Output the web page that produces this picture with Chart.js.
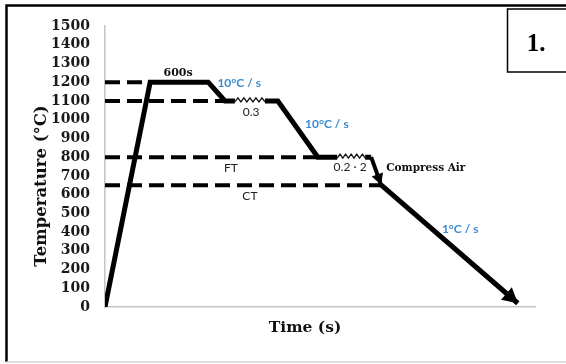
<!DOCTYPE html>
<html>
<head>
<meta charset="utf-8">
<script src="https://cdn.jsdelivr.net/npm/chart.js@4"></script>
<style>
  body { margin: 0; background: #fff; }
  #wrap { width: 566px; height: 364px; }
</style>
</head>
<body>
<div id="wrap"><canvas id="cycle-chart" width="566" height="364"></canvas></div>
<script>
// heat treatment schedule (time is arbitrary, no ticks in the source)
var profileTime = [0, 10.5, 24.0, 27.9, 30.2, 33.7, 37.2, 40.2, 49.5, 54.0, 57.2, 60.5, 61.9];
var profileTemp = [0, 1200, 1200, 1100, 1100, null, 1100, 1100, 800, 800, null, 800, 800];

var airTime = [61.9, 64.2];
var airTemp = [800, 652];

var coolTime = [64.2, 96.0];
var coolTemp = [652, 20];

var levelTemps = [1200, 1100, 800, 650];
var levelEnds = [10.5, 27.9, 49.5, 64.2];

// hold sections drawn as a spring
var holdStart = [30.2, 54.0];
var holdEnd = [37.2, 60.5];
var holdTemp = [1100, 800];

var yMin = 0, yMax = 1500, yStep = 100;

var noteText = ["600s", "10°C / s", "0.3", "10°C / s", "FT", "0.2 · 2", "Compress Air", "CT", "1°C / s"];
var noteTime = [17.0, 31.2, 34.0, 51.6, 29.3, 57.0, 65.4, 33.7, 82.6];
var noteTemp = [1250, 1196, 1041, 977, 742, 745, 742, 593, 417];

var blue = "#3b8bd0";
var noteStyle = [
  { font: "bold 11px 'DejaVu Serif'", color: "#111", align: "center" },
  { font: "bold 12px Lato", color: blue, align: "center" },
  { font: "12px Lato", color: "#222", align: "center" },
  { font: "bold 12px Lato", color: blue, align: "center" },
  { font: "12px Lato", color: "#222", align: "center" },
  { font: "12px Lato", color: "#222", align: "center" },
  { font: "bold 10.5px 'DejaVu Serif'", color: "#111", align: "left" },
  { font: "12px Lato", color: "#222", align: "center" },
  { font: "bold 12px Lato", color: blue, align: "center" },
];

function pts(xs, ys) {
  return xs.map((x, i) => ({ x: x, y: ys[i] }));
}

var datasets = [];

levelTemps.forEach((temp, i) => {
  datasets.push({
    label: "level " + temp,
    data: pts([0, levelEnds[i]], [temp, temp]),
    borderColor: "#000",
    borderWidth: 4,
    borderDash: [15, 7],
    pointRadius: 0,
    showLine: true,
  });
});

datasets.push({
  label: "Profile",
  data: pts(profileTime, profileTemp),
  borderColor: "#000",
  borderWidth: 5,
  pointRadius: 0,
  showLine: true,
  spanGaps: false,
  borderJoinStyle: "miter",
});
datasets.push({
  label: "Compress Air",
  data: pts(airTime, airTemp),
  borderColor: "#000",
  borderWidth: 4,
  pointRadius: 0,
  showLine: true,
  arrow: 11,
});
datasets.push({
  label: "Cooling",
  data: pts(coolTime, coolTemp),
  borderColor: "#000",
  borderWidth: 5,
  pointRadius: 0,
  showLine: true,
  arrow: 15,
});

const decor = {
  id: "decor",
  afterDraw(chart) {
    var ctx = chart.ctx;
    var xs = chart.scales.x;
    var ys = chart.scales.y;
    ctx.save();

    // outer frame
    ctx.strokeStyle = "#000";
    ctx.lineWidth = 2.5;
    ctx.beginPath();
    ctx.moveTo(566, 5.5);
    ctx.lineTo(6.5, 5.5);
    ctx.lineTo(6.5, 362);
    ctx.stroke();
    ctx.strokeStyle = "#d0d0d0";
    ctx.lineWidth = 1.5;
    ctx.beginPath();
    ctx.moveTo(6, 362);
    ctx.lineTo(566, 362);
    ctx.stroke();

    // panel number box
    ctx.strokeStyle = "#000";
    ctx.lineWidth = 1.5;
    ctx.strokeRect(507.5, 9, 70, 63);
    ctx.fillStyle = "#000";
    ctx.font = "bold 25px 'Liberation Serif'";
    ctx.textAlign = "center";
    ctx.textBaseline = "middle";
    ctx.fillText("1.", 536, 45);

    // springs on the hold sections
    ctx.strokeStyle = "#111";
    ctx.lineWidth = 1.3;
    holdStart.forEach((t0, i) => {
      var x0 = xs.getPixelForValue(t0);
      var x1 = xs.getPixelForValue(holdEnd[i]);
      var y = ys.getPixelForValue(holdTemp[i]);
      var n = 5;
      var step = (x1 - x0) / (n * 2);
      ctx.beginPath();
      ctx.moveTo(x0, y + 1);
      for (var k = 0; k < n * 2; k++) {
        ctx.lineTo(x0 + step * (k + 1), k % 2 === 0 ? y - 3 : y + 1);
      }
      ctx.stroke();
    });

    // arrow heads
    chart.data.datasets.forEach((ds) => {
      if (!ds.arrow) return;
      var a = ds.data[ds.data.length - 2];
      var b = ds.data[ds.data.length - 1];
      var ax = xs.getPixelForValue(a.x), ay = ys.getPixelForValue(a.y);
      var bx = xs.getPixelForValue(b.x), by = ys.getPixelForValue(b.y);
      var ang = Math.atan2(by - ay, bx - ax);
      var len = ds.arrow;
      var half = ds.arrow * 0.55;
      ctx.fillStyle = "#000";
      ctx.beginPath();
      ctx.moveTo(bx, by);
      ctx.lineTo(bx - len * Math.cos(ang) + half * Math.sin(ang), by - len * Math.sin(ang) - half * Math.cos(ang));
      ctx.lineTo(bx - len * Math.cos(ang) - half * Math.sin(ang), by - len * Math.sin(ang) + half * Math.cos(ang));
      ctx.closePath();
      ctx.fill();
    });

    // notes
    noteText.forEach((txt, i) => {
      var st = noteStyle[i];
      ctx.font = st.font;
      ctx.fillStyle = st.color;
      ctx.textAlign = st.align;
      ctx.textBaseline = "middle";
      ctx.fillText(txt, xs.getPixelForValue(noteTime[i]), ys.getPixelForValue(noteTemp[i]));
    });

    // axis titles
    ctx.fillStyle = "#111";
    ctx.font = "bold 15.5px 'DejaVu Serif'";
    ctx.textAlign = "center";
    ctx.textBaseline = "middle";
    ctx.fillText("Time (s)", 305, 328);
    ctx.save();
    ctx.translate(42, 186);
    ctx.rotate(-Math.PI / 2);
    ctx.font = "bold 16.5px 'DejaVu Serif'";
    ctx.fillText("Temperature (°C)", 0, 0);
    ctx.restore();

    ctx.restore();
  },
};

new Chart(document.getElementById("cycle-chart"), {
  type: "scatter",
  data: { datasets: datasets },
  options: {
    responsive: false,
    animation: false,
    layout: { padding: { top: 26, right: 31, bottom: 0, left: 0 } },
    plugins: {
      legend: { display: false },
      tooltip: { enabled: false },
    },
    scales: {
      x: {
        type: "linear",
        min: 0,
        max: 100,
        grid: { display: false, drawTicks: false },
        border: { display: true, color: "#c4c4c4", width: 1.5 },
        ticks: { display: false },
        afterFit: (s) => { s.height = 57; },
      },
      y: {
        min: yMin,
        max: yMax,
        grid: { display: false, drawTicks: false },
        border: { display: true, color: "#c4c4c4", width: 1.5 },
        ticks: {
          stepSize: yStep,
          autoSkip: false,
          padding: 15,
          color: "#1a1a1a",
          font: { family: "'DejaVu Serif'", weight: "bold", size: 14 },
          callback: (v) => String(v),
        },
        afterFit: (s) => { s.width = 105; },
      },
    },
  },
  plugins: [decor],
});
</script>
</body>
</html>
